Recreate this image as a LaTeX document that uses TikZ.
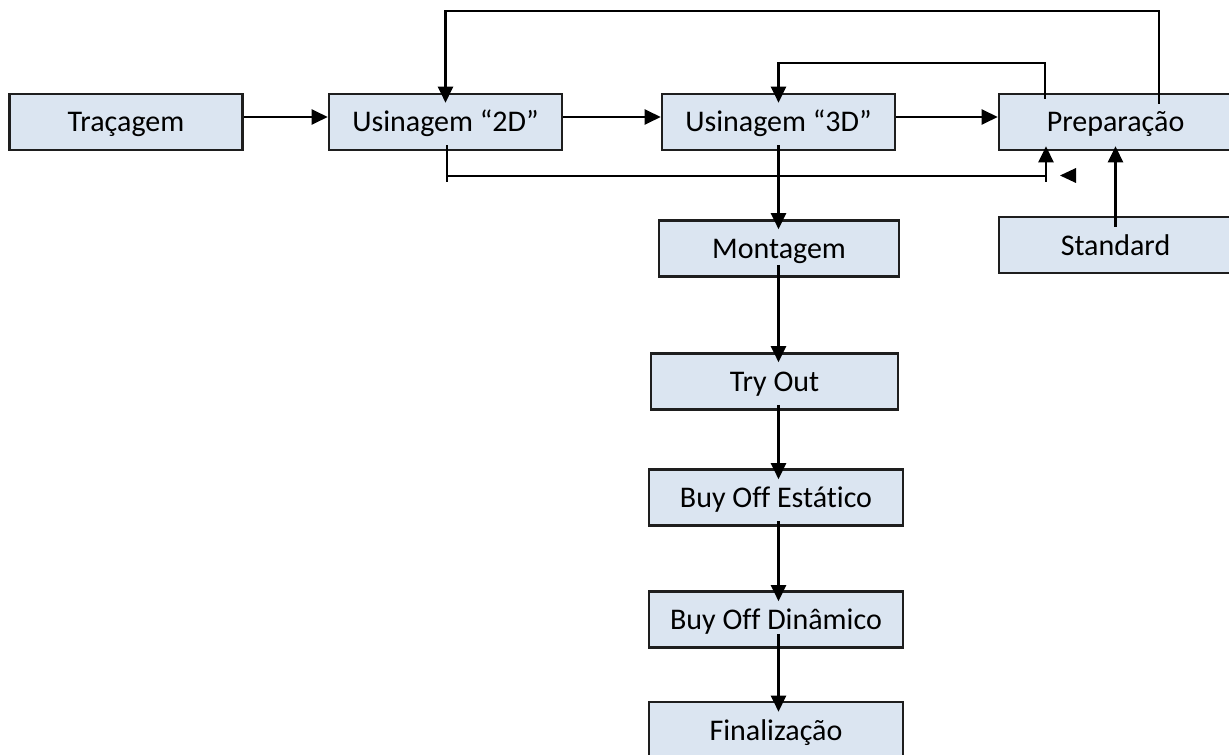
\documentclass[tikz,border=0pt]{standalone}
\usepackage{fontspec}
\setmainfont{Carlito}[Ligatures=NoCommon]
\usepackage{tikz}
\usetikzlibrary{arrows.meta, calc}
\usepackage{xcolor}
\definecolor{boxfill}{RGB}{219, 229, 241}
\definecolor{boxline}{RGB}{30, 30, 30}

\begin{document}
\begin{tikzpicture}[x=0.5pt, y=-0.5pt, >={Triangle[length=8pt, width=7.5pt]},
  stagebox/.style={draw=boxline, line width=1.3pt, fill=boxfill, rectangle,
    minimum width=116.5pt, minimum height=28pt, inner sep=0pt,
    text height=12pt, text depth=2pt,
    font=\fontsize{15}{17}\selectfont},
  flo/.style={->, line width=1.15pt, shorten <=-3pt, shorten >=-5pt}]

  \useasboundingbox (0,0) rectangle (1229,754);

  % --- Top row ---
  \node[stagebox] (trac) at (126, 122) {Traçagem};
  \node[stagebox] (u2) at (445.5, 122) {Usinagem “2D”};
  \node[stagebox] (u3) at (778.5, 122) {Usinagem “3D”};
  \node[stagebox] (prep) at (1115.5, 122) {Preparação};
  \node[stagebox] (std) at (1115.5, 245) {Standard};

  % --- Vertical chain ---
  \node[stagebox, minimum width=120pt] (mont) at (779, 248.5) {Montagem};
  \node[stagebox, minimum width=123.5pt] (try) at (774.5, 381.5) {Try Out};
  \node[stagebox, minimum width=127pt] (est) at (776, 497.5) {Buy Off Estático};
  \node[stagebox, minimum width=127pt] (din) at (776, 619.5) {Buy Off Dinâmico};
  \node[stagebox, minimum width=127pt] (fin) at (776, 730) {Finalização};

  % Horizontal flow
  \draw[flo, shorten <=0pt, shorten >=0pt] ([yshift=2.5pt]trac.east) -- ([yshift=2.5pt]u2.west);
  \draw[flo, shorten <=0pt, shorten >=0pt] ([yshift=2.5pt]u2.east) -- ([yshift=2.5pt]u3.west);
  \draw[flo, shorten <=0pt, shorten >=0pt] ([yshift=2.5pt]u3.east) -- ([yshift=2.5pt]prep.west);

  % Return loops from Preparação
  \coordinate (topR) at (1159, 11);
  \coordinate (midR) at (1045, 63);
  \draw[flo, shorten <=-5.5pt] (prep.north -| topR) -- (topR) -| (u2.north);
  \draw[flo] (prep.north -| midR) -- (midR) -| (u3.north);

  % Bypass from Usinagem 2D
  \coordinate (lowL) at (447, 182);
  \coordinate (lowR) at (1046, 182);
  \coordinate (botL) at (447, 176);
  \coordinate (botR) at (1046, 176);
  \draw[line width=1.15pt, shorten <=-3pt] (u2.south -| lowL) -- (lowL);
  \draw[line width=1.15pt] (botL) -- (botR);
  \draw[flo, shorten <=0pt, shorten >=-2.5pt] (lowR) -- (prep.south -| lowR);
  \fill (1060, 175.5) -- (1076, 168) -- (1076, 183) -- cycle;

  \draw[flo, shorten <=-5.5pt, shorten >=-2.5pt] (std.north) -- (prep.south);

  % Down the chain
  \draw[flo] (u3.south) -- (mont.north -| u3);
  \draw[flo, shorten <=-6.5pt] (mont.south -| u3) -- (try.north -| u3);
  \draw[flo, shorten >=-5.5pt] (try.south -| u3) -- (est.north -| u3);
  \draw[flo, shorten >=-5.5pt] (est.south -| u3) -- (din.north -| u3);
  \draw[flo, shorten <=-7.5pt, shorten >=-5.5pt] (din.south -| u3) -- (fin.north -| u3);

\end{tikzpicture}
\end{document}
